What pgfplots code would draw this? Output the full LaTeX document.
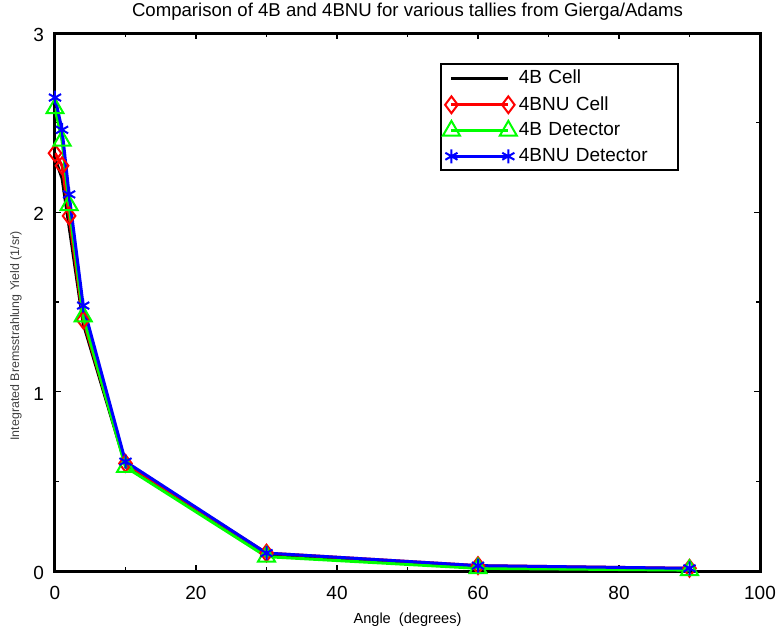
\documentclass[border=0pt]{standalone}
\usepackage{fontspec}
\setmainfont{Liberation Sans}
\usepackage{pgfplots}
\pgfplotsset{compat=1.18}
\begin{document}
\begin{tikzpicture}
\useasboundingbox (-27.5pt,-30.5pt) rectangle (363pt,285.5pt);
\begin{axis}[
  at={(0,0)}, anchor=south west,
  scale only axis,
  width=352.5pt, height=269pt,
  xmin=0, xmax=100, ymin=0, ymax=3,
  xtick={0,20,40,60,80,100},
  minor xtick={10,30,50,70,90},
  ytick={0,1,2,3},
  minor ytick={0.5,1.5,2.5},
  tick align=inside,
  major tick length=3pt, minor tick length=2pt,
  tick style={black, line width=0.8pt},
  axis line style={line width=1.5pt},
  font=\fontsize{9.5}{11}\selectfont,
  /pgf/number format/assume math mode=true,
  ticklabel style={font=\fontsize{9.5}{11}\selectfont},
  xticklabel style={yshift=-4pt},
  yticklabel style={xshift=-2pt, yshift=-1pt},
  title={Comparison of 4B and 4BNU for various tallies from Gierga/Adams},
  title style={font=\fontsize{9.3}{11}\selectfont, yshift=-3pt},
  xlabel={Angle\ \ (degrees)},
  xlabel style={font=\fontsize{7.3}{9}\selectfont, yshift=0pt},
  ylabel={Integrated Bremsstrahlung Yield (1/sr)},
  ylabel style={font=\fontsize{6.2}{8}\selectfont, text=black!75, yshift=-1pt, xshift=-17pt},
  legend style={at={(0.546,0.944)}, anchor=north west, draw=black,
                line width=1pt, inner sep=1pt, row sep=0.75pt,
                font=\fontsize{9.5}{11}\selectfont,
                nodes={inner xsep=1pt, text width=77.5pt, align=left}},
  legend cell align=left,
  legend image code/.code={\draw[mark repeat=1,mark phase=1,#1]
      plot coordinates {(0.05cm,0cm) (1.05cm,0cm)};},
  every axis plot/.append style={line width=1.5pt},
]
\addplot[black, no markers] coordinates {
  (0,2.30) (1,2.19) (2,1.92) (4,1.38) (10,0.59) (30,0.09) (60,0.02) (90,0.01)};
\addlegendentry{4B Cell}
\addplot[red, mark=diamond, mark size=4.2pt, mark options={line width=1pt}] coordinates {
  (0,2.33) (1,2.26) (2,1.98) (4,1.40) (10,0.60) (30,0.10) (60,0.03) (90,0.015)};
\addlegendentry{4BNU Cell}
\addplot[green, mark=triangle, mark size=4.9pt, mark options={line width=1pt}] coordinates {
  (0,2.58) (1,2.40) (2,2.04) (4,1.42) (10,0.58) (30,0.08) (60,0.015) (90,0.005)};
\addlegendentry{4B Detector}
\addplot[blue, mark=asterisk, mark size=3.5pt, mark options={line width=1pt}] coordinates {
  (0,2.64) (1,2.46) (2,2.10) (4,1.48) (10,0.61) (30,0.10) (60,0.03) (90,0.015)};
\addlegendentry{4BNU Detector}
\end{axis}
\end{tikzpicture}
\end{document}
